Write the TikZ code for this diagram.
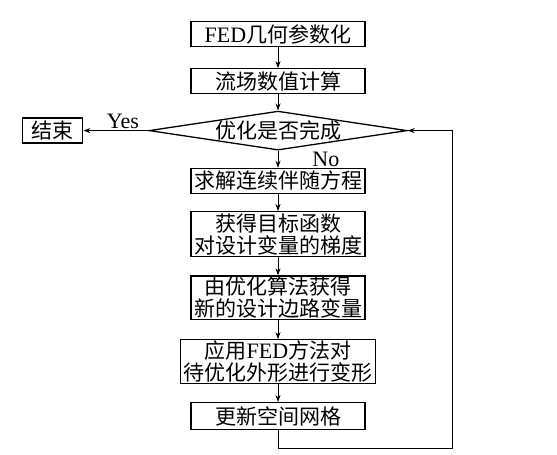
\documentclass[tikz,border=0pt]{standalone}
\usepackage{fontspec}
\setmainfont{Liberation Serif}
\newfontfamily\cjk{Noto Sans CJK SC}
\usetikzlibrary{shapes.geometric,arrows.meta,positioning}
\tikzset{bx/.style={draw,line width=1.3pt,align=center,font=\cjk\fontsize{21}{22}\selectfont,minimum width=174pt,minimum height=25pt,inner sep=1pt},
 dm/.style={draw,diamond,line width=1.3pt,aspect=6.6,inner sep=0pt,minimum width=258pt,minimum height=39pt,font=\cjk\fontsize{21}{22}\selectfont},
 ar/.style={-{Stealth[length=7pt,width=5pt]},line width=0.9pt},lb/.style={font=\fontsize{22}{22}\selectfont,inner sep=1pt}}
\newcommand{\en}[1]{{\rmfamily\fontsize{22}{22}\selectfont #1}}
\begin{document}
\begin{tikzpicture}
\useasboundingbox (0,0) rectangle (557pt,-455pt);
\node[bx](a) at (278pt,-34pt){\en{FED}几何参数化};\node[bx,below=21pt of a](b){流场数值计算};
\node[dm,below=16pt of b](c){优化是否完成};\node[bx,left=65pt of c,minimum width=60pt](e){结束};
\node[bx,below=17pt of c](f){求解连续伴随方程};\node[bx,below=17pt of f,minimum height=45pt](g){获得目标函数\\对设计变量的梯度};
\node[bx,below=18pt of g,minimum height=43pt](h){由优化算法获得\\新的设计边路变量};
\node[bx,below=19pt of h,minimum height=43pt,minimum width=195pt](i){应用\en{FED}方法对\\待优化外形进行变形};
\node[bx,below=18pt of i,minimum height=27pt](j){更新空间网格};\path(j.south)++(174pt,-18pt)coordinate(k);
\draw[ar](a)--(b);\draw[ar](b)--(c);\draw[ar](c)--node[lb,above,xshift=7pt]{Yes}(e);\draw[ar](c)--node[lb,right=33pt]{No}(f);
\draw[ar](f)--(g);\draw[ar](g)--(h);\draw[ar](h)--(i);\draw[ar](i)--(j);\draw[ar](j.south)|-(k)|-(c.east);
\end{tikzpicture}
\end{document}
